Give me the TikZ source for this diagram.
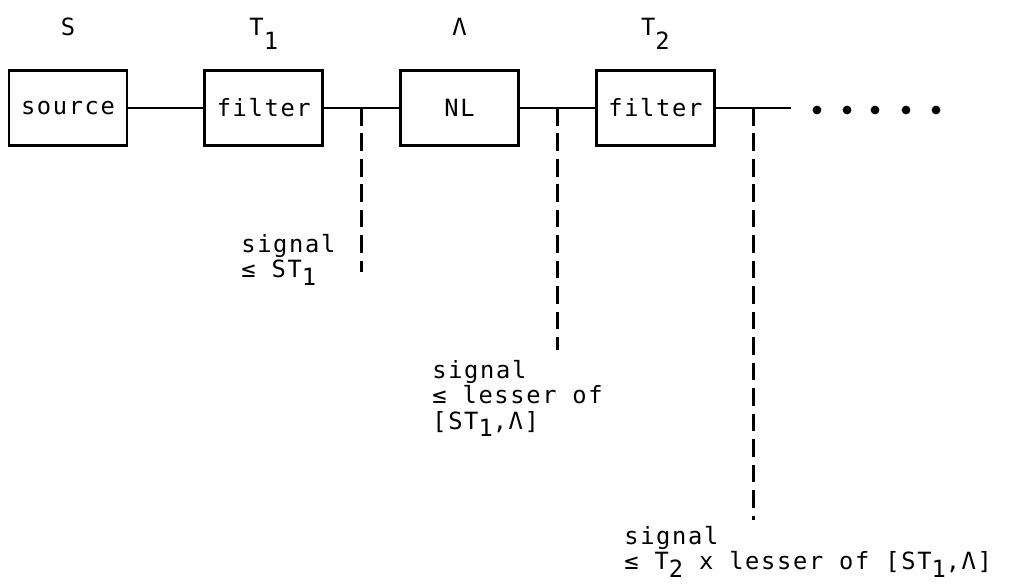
\documentclass[tikz,border=0pt]{standalone}
\usepackage{fontspec}
\setmonofont{DejaVu Sans Mono}[LetterSpace=7]
\usetikzlibrary{positioning, calc}
\newcommand{\lowr}[2][0.55ex]{\raisebox{-#1}{#2}}

\begin{document}
\begin{tikzpicture}[x=0.02cm, y=-0.02cm,
  every node/.style={font=\ttfamily\fontsize{13.5}{14.5}\selectfont},
  blockbox/.style={draw, line width=1.6pt, minimum width=2.36cm, minimum height=1.5cm, inner sep=0pt},
  hdr/.style={inner sep=0pt, anchor=base},
  note/.style={align=left, inner sep=0pt, anchor=north west},
  wire/.style={line width=1.6pt},
  tapline/.style={line width=1.6pt, dash pattern=on 10pt off 4.5pt}]
\useasboundingbox (0,0) rectangle (1026,586);
% chain of blocks
\node[blockbox] (src) at (68,108) {source};
\node[blockbox, right=1.5cm of src] (flt1) {filter};
\node[blockbox, right=1.5cm of flt1] (nl) {NL};
\node[blockbox, right=1.5cm of nl] (flt2) {filter};
\coordinate[right=1.5cm of flt2] (lend);
% headers
\node[hdr] (hS) at ([yshift=0.68cm]src.north) {S};
\node[hdr] (hT1) at ([yshift=0.68cm]flt1.north) {T\lowr[1.1ex]{1}};
\node[hdr] (hLam) at ([yshift=0.68cm]nl.north) {Λ};
\node[hdr] (hT2) at ([yshift=0.68cm]flt2.north) {T\lowr[1.1ex]{2}};
% wires
\draw[wire] (src) -- (flt1);
\draw[wire] (flt1) -- (nl);
\draw[wire] (nl) -- (flt2);
\draw[wire] (flt2) -- (lend);
\foreach \dx in {817,847,875,906,936}
  \fill (\dx,110) circle (2.5pt);
% taps
\coordinate (tap1) at ($(flt1.east)!0.5!(nl.west)$);
\coordinate (tap2) at ($(nl.east)!0.5!(flt2.west)$);
\coordinate (tap3) at ($(flt2.east)!0.5!(lend)$);
\coordinate (d1) at (tap1 |- 0,272);
\coordinate (d2) at (tap2 |- 0,350);
\coordinate (d3) at (tap3 |- 0,520);
\draw[tapline] (tap1) -- (d1);
\draw[tapline] (tap2) -- (d2);
\draw[tapline] (tap3) -- (d3);
% bounds
\node[note] (lbl1) at (241,234) {signal\\≤ ST\lowr{1}};
\node[note] (lbl2) at (432,360) {signal\\≤ lesser of\\{[}ST\lowr{1},Λ]};
\node[note] (lbl3) at (624,526) {signal\\≤ T\lowr{2} x lesser of [ST\lowr{1},Λ]};
\end{tikzpicture}
\end{document}
